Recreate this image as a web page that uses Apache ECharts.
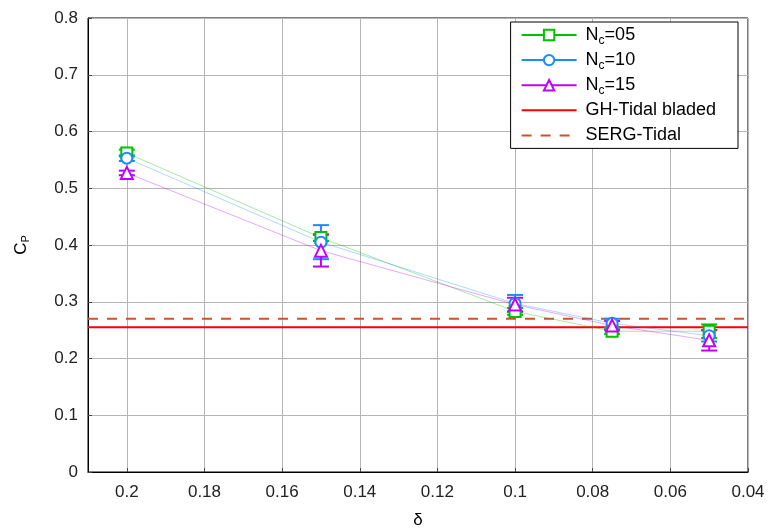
<!DOCTYPE html>
<html>
<head>
<meta charset="utf-8">
<script src="https://cdn.jsdelivr.net/npm/echarts@6/dist/echarts.min.js"></script>
<style>
html,body{margin:0;padding:0;background:#fff;}
#chart{width:769px;height:532px;}
</style>
</head>
<body>
<div id="chart"></div>
<script>
// ---- data ----
const deltaValues = [0.2, 0.15, 0.1, 0.075, 0.05];
const nc05 = [0.562, 0.413, 0.283, 0.248, 0.248];
const nc05Err = [0.006, 0.006, 0.006, 0.005, 0.012];
const nc10 = [0.553, 0.405, 0.297, 0.262, 0.240];
const nc10Err = [0.005, 0.030, 0.015, 0.008, 0.010];
const nc15 = [0.527, 0.390, 0.295, 0.258, 0.232];
const nc15Err = [0.004, 0.028, 0.012, 0.008, 0.018];
const ghTidalBladed = 0.255;
const sergTidal = 0.270;
const xRange = [0.21, 0.04];
const seriesNames = ['Nc=05', 'Nc=10', 'Nc=15', 'GH-Tidal bladed', 'SERG-Tidal'];

const colors = {
  g: '#00c000', b: '#1a8cff', m: '#c000ff', r: '#ff0000', d: '#cc5522'
};
const FONT = 'Liberation Sans, Arial, sans-serif';

function pts(ys) { return deltaValues.map((x, i) => [x, ys[i]]); }
function errPts(ys, es) { return deltaValues.map((x, i) => [x, ys[i], es[i]]); }

function errSeries(name, ys, es, color) {
  return {
    name: name, type: 'custom', z: 2,
    data: errPts(ys, es),
    renderItem: function (params, api) {
      const x = api.value(0), y = api.value(1), e = api.value(2);
      const top = api.coord([x, y + e]);
      const bot = api.coord([x, y - e]);
      const hw = 8;
      const st = { stroke: color, lineWidth: 2, fill: null };
      return {
        type: 'group',
        children: [
          { type: 'line', shape: { x1: top[0], y1: top[1], x2: bot[0], y2: bot[1] }, style: st },
          { type: 'line', shape: { x1: top[0] - hw, y1: top[1], x2: top[0] + hw, y2: top[1] }, style: st },
          { type: 'line', shape: { x1: bot[0] - hw, y1: bot[1], x2: bot[0] + hw, y2: bot[1] }, style: st }
        ]
      };
    }
  };
}

function lineSeries(name, ys, color, symbol, size) {
  return {
    name: name, type: 'line', z: 3,
    data: pts(ys),
    symbol: symbol, symbolSize: size,
    itemStyle: { color: color, borderColor: color, borderWidth: 1.5 },
    lineStyle: { color: color, width: 1, opacity: 0.35 }
  };
}

const chart = echarts.init(document.getElementById('chart'), null, { renderer: 'canvas' });

chart.setOption({
  animation: false,
  backgroundColor: '#fff',
  textStyle: { fontFamily: FONT },
  grid: {
    left: 88, right: 21, top: 18, bottom: 60,
    containLabel: false, outerBoundsMode: 'none',
    show: true, borderColor: '#000', borderWidth: 1
  },
  legend: {
    right: 31, top: 22,
    orient: 'vertical',
    itemWidth: 55, itemHeight: 13, itemGap: 1.1,
    padding: [1, 22, 1, 10],
    borderColor: '#000', borderWidth: 1,
    backgroundColor: '#fff',
    data: [
      { name: seriesNames[0], lineStyle: { width: 2, opacity: 1 } },
      { name: seriesNames[1], lineStyle: { width: 2, opacity: 1 } },
      { name: seriesNames[2], lineStyle: { width: 2, opacity: 1 } },
      { name: seriesNames[3], itemStyle: { opacity: 0 } },
      { name: seriesNames[4], itemStyle: { opacity: 0 } }
    ],
    formatter: function (name) {
      if (name.indexOf('Nc=') === 0) {
        return '{p| }{n|N}{s|c}{n|' + name.slice(2) + '}';
      }
      return '{p| }{n|' + name + '}';
    },
    textStyle: {
      fontFamily: FONT, fontSize: 18, lineHeight: 24, color: '#000',
      rich: {
        p: { width: 4, fontSize: 18, lineHeight: 24 },
        n: { fontFamily: FONT, fontSize: 18, lineHeight: 24, color: '#000' },
        s: { fontFamily: FONT, fontSize: 12, lineHeight: 13, color: '#000', padding: [11, 0, 0, 0] }
      }
    }
  },
  xAxis: {
    type: 'value',
    min: xRange[1], max: xRange[0], interval: 0.02, inverse: true,
    name: 'δ', nameLocation: 'middle', nameGap: 40,
    nameTextStyle: { fontFamily: FONT, fontSize: 17, color: '#000' },
    axisLine: { lineStyle: { color: '#000' } },
    axisTick: { inside: true, length: 4, lineStyle: { color: '#444' } },
    axisLabel: { fontFamily: FONT, fontSize: 17, color: '#222', margin: 12, showMaxLabel: false },
    splitLine: { show: true, lineStyle: { color: '#b5b5b5', width: 1 } }
  },
  yAxis: {
    type: 'value',
    min: 0, max: 0.8, interval: 0.1,
    name: '{n|C}{s|P}', nameLocation: 'middle', nameGap: 57, nameRotate: 90,
    nameTextStyle: {
      fontFamily: FONT, fontSize: 17, color: '#000',
      rich: {
        n: { fontFamily: FONT, fontSize: 17, color: '#000' },
        s: { fontFamily: FONT, fontSize: 11, color: '#000', padding: [9, 0, 0, 0] }
      }
    },
    axisLine: { lineStyle: { color: '#000' } },
    axisTick: { inside: true, length: 4, lineStyle: { color: '#444' } },
    axisLabel: { fontFamily: FONT, fontSize: 17, color: '#222', margin: 10 },
    splitLine: { show: true, lineStyle: { color: '#b5b5b5', width: 1 } }
  },
  series: [
    errSeries('err05', nc05, nc05Err, colors.g),
    errSeries('err10', nc10, nc10Err, colors.b),
    errSeries('err15', nc15, nc15Err, colors.m),
    lineSeries(seriesNames[0], nc05, colors.g, 'emptyRect', 11),
    lineSeries(seriesNames[1], nc10, colors.b, 'emptyCircle', 11),
    lineSeries(seriesNames[2], nc15, colors.m, 'emptyTriangle', 12),
    {
      name: seriesNames[3], type: 'line', z: 1, symbol: 'none',
      data: [[xRange[0], ghTidalBladed], [xRange[1], ghTidalBladed]],
      itemStyle: { color: colors.r },
      lineStyle: { color: colors.r, width: 2 }
    },
    {
      name: seriesNames[4], type: 'line', z: 1, symbol: 'none',
      data: [[xRange[0], sergTidal], [xRange[1], sergTidal]],
      itemStyle: { color: colors.d },
      lineStyle: { color: colors.d, width: 2, type: [10, 9] }
    }
  ]
});
</script>
</body>
</html>
